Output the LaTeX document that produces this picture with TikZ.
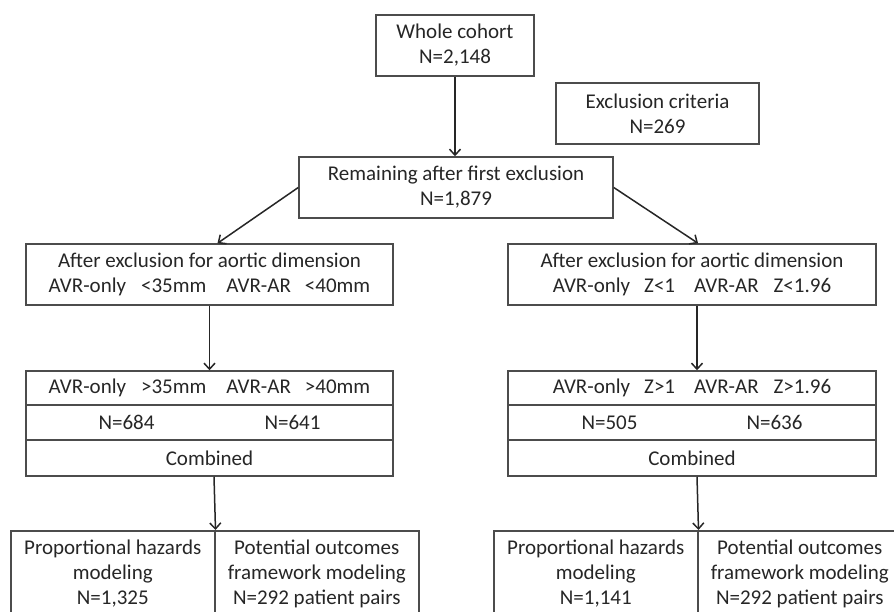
\documentclass[tikz,border=0pt]{standalone}
\usepackage{fontspec}
\setmainfont{Carlito}
\usetikzlibrary{arrows.meta}
\begin{document}
\begin{tikzpicture}[x=1pt, y=-1pt,
    font=\fontsize{21}{25}\selectfont,
    box/.style={draw=black!70, line width=1.5pt, align=center, inner sep=0pt, text=black!85},
    >={Straight Barb[length=6pt,width=11pt]}]
    \useasboundingbox (0,0) rectangle (894,611);
    \clip (0,0) rectangle (894,611);
    % top part
    \node[box, minimum width=158pt, minimum height=61pt] (whole) at (455,45.5) {Whole cohort\\N=2,148};
    \node[box, minimum width=203pt, minimum height=61pt] (excl) at (657.5,113.5) {Exclusion criteria\\N=269};
    \node[box, minimum width=314pt, minimum height=61pt] (remain) at (456,187.5) {Remaining after first exclusion\\N=1,879};
    % left branch
    \node[box, minimum width=367pt, minimum height=61pt] (ltop) at (209.5,274.5) {After exclusion for aortic dimension\\AVR-only\hspace{15pt}<35mm\hspace{20pt}AVR-AR\hspace{14pt}<40mm};
    \node[box, minimum width=367pt, minimum height=34pt] (lrow1) at (209.5,388) {AVR-only\hspace{15pt}>35mm\hspace{20pt}AVR-AR\hspace{14pt}>40mm};
    \node[box, minimum width=367pt, minimum height=35pt] (lrow2) at (209.5,422.5) {N=684\hspace{110pt}N=641};
    \node[box, minimum width=367pt, minimum height=36pt] (lrow3) at (209.5,458) {Combined};
    \node[box, anchor=north west, minimum width=204pt, minimum height=86pt] (lph) at (10,530) {Proportional hazards\\modeling\\N=1,325};
    \node[box, anchor=north west, minimum width=204pt, minimum height=86pt] (lpo) at (214,530) {Potential outcomes\\framework modeling\\N=292 patient pairs};
    % right branch
    \node[box, minimum width=368pt, minimum height=61pt] (rtop) at (692,274.5) {After exclusion for aortic dimension\\AVR-only\hspace{14pt}Z<1\hspace{19pt}AVR-AR\hspace{15pt}Z<1.96};
    \node[box, minimum width=368pt, minimum height=34pt] (rrow1) at (692,388) {AVR-only\hspace{14pt}Z>1\hspace{19pt}AVR-AR\hspace{15pt}Z>1.96};
    \node[box, minimum width=368pt, minimum height=35pt] (rrow2) at (692,422.5) {N=505\hspace{109pt}N=636};
    \node[box, minimum width=368pt, minimum height=36pt] (rrow3) at (692,458) {Combined};
    \node[box, anchor=north west, minimum width=204pt, minimum height=86pt] (rph) at (493,530) {Proportional hazards\\modeling\\N=1,141};
    \node[box, anchor=north west, minimum width=204pt, minimum height=86pt] (rpo) at (697,530) {Potential outcomes\\framework modeling\\N=292 patient pairs};
    % arrows
    \begin{scope}[->, draw=black!85, line width=1.5pt]
        \draw (whole.south) -- (whole.south |- remain.north);
        \draw (remain.west) -- ([xshift=8pt]ltop.north);
        \draw (remain.east) -- ([xshift=6pt]rtop.north);
        \draw (ltop) -- (lrow1);
        \draw ([xshift=5pt]rtop.south) -- ([xshift=5pt]rrow1.north);
        \draw ([xshift=4.5pt]lrow3.south) -- (lph.north east);
        \draw ([xshift=5pt]rrow3.south) -- (rph.north east);
    \end{scope}
\end{tikzpicture}
\end{document}
